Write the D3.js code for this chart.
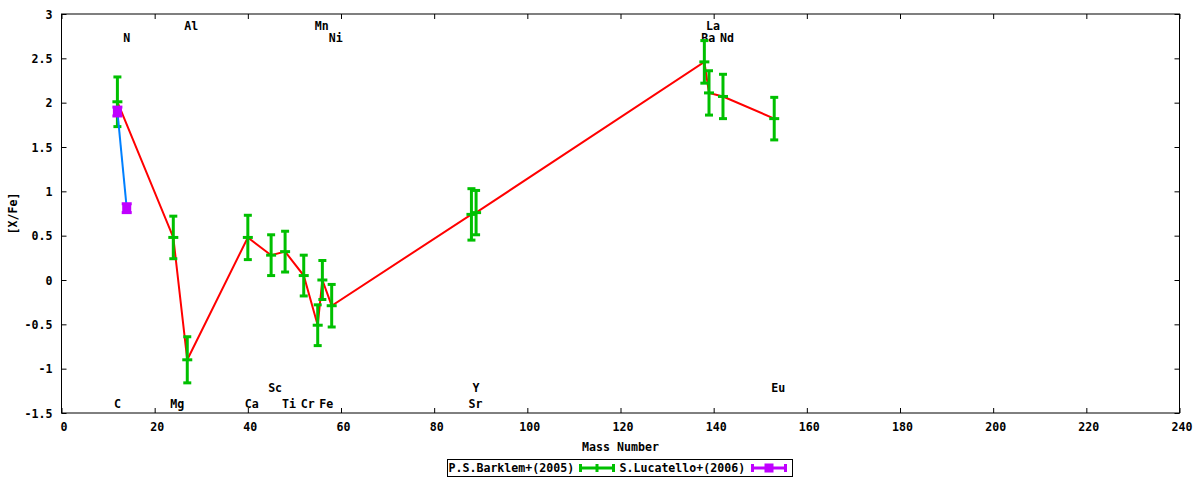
<!DOCTYPE html>
<html><head><meta charset="utf-8">
<script src="https://cdn.jsdelivr.net/npm/d3@7"></script>
<style>
body{margin:0;background:#fff;}
text{font-family:"DejaVu Sans Mono",monospace;font-weight:bold;font-size:11.6px;fill:#000;}
</style></head><body>
<svg id="c" width="1200" height="480"></svg>
<script>
// Barklem et al. (2005)
const barklemMass = [12,24,27,40,45,48,52,55,56,58,88,89,138,139,142,153];
const barklemVal  = [2.01,0.48,-0.90,0.48,0.28,0.32,0.05,-0.51,0.00,-0.29,0.74,0.76,2.46,2.11,2.07,1.82];
const barklemErr  = [0.28,0.24,0.26,0.25,0.23,0.23,0.23,0.23,0.22,0.24,0.29,0.25,0.24,0.25,0.25,0.24];
// Lucatello et al. (2006)
const lucMass = [12,14];
const lucVal  = [1.90,0.81];
const lucErr  = [0.05,0.05];
// element labels
const elemNames = ["C","N","Mg","Al","Ca","Sc","Ti","Cr","Mn","Fe","Ni","Sr","Y","Ba","La","Nd","Eu"];
const elemMass  = [12,14,24,27,40,45,48,52,55,56,58,88,89,138,139,142,153];
const elemY     = [-1.39,2.73,-1.39,2.87,-1.39,-1.21,-1.39,-1.39,2.87,-1.39,2.73,-1.39,-1.21,2.73,2.87,2.73,-1.21];
const xTicks = d3.range(0,241,20);
const yTicks = [-1.5,-1,-0.5,0,0.5,1,1.5,2,2.5,3];
const seriesNames = ["P.S.Barklem+(2005)","S.Lucatello+(2006)"];

const svg = d3.select("#c");
const L=61.5, R=1179.5, T=14, B=413;
const x = d3.scaleLinear().domain([0,240]).range([L,R]);
const y = d3.scaleLinear().domain([-1.5,3]).range([B,T]);
const GREEN="#00c000", RED="#ff0000", BLUE="#0080ff", MAG="#c000ff";

// axes
const fmt = d => String(d);
const gB = svg.append("g").attr("transform",`translate(0,${B})`)
  .call(d3.axisBottom(x).tickValues(xTicks).tickFormat(fmt).tickSizeInner(-5).tickSizeOuter(0).tickPadding(10));
const gT = svg.append("g").attr("transform",`translate(0,${T})`)
  .call(d3.axisTop(x).tickValues(xTicks).tickFormat("").tickSizeInner(-5).tickSizeOuter(0));
const gL = svg.append("g").attr("transform",`translate(${L},0)`)
  .call(d3.axisLeft(y).tickValues(yTicks).tickFormat(fmt).tickSizeInner(-5).tickSizeOuter(0).tickPadding(9));
const gR = svg.append("g").attr("transform",`translate(${R},0)`)
  .call(d3.axisRight(y).tickValues(yTicks).tickFormat("").tickSizeInner(-5).tickSizeOuter(0));
[gB,gT,gL,gR].forEach(g=>{
  g.select(".domain").remove();
  g.selectAll("line").attr("stroke","#000");
  g.selectAll("text").attr("font-family",null).attr("font-size",null).attr("fill","#000");
});
gL.selectAll("text").attr("dy","0.36em");
gB.selectAll("text").attr("dx","2");
svg.append("rect").attr("x",L).attr("y",T).attr("width",R-L).attr("height",B-T)
  .attr("fill","none").attr("stroke","#000").attr("stroke-width",1);

// axis labels
svg.append("text").attr("x",(L+R)/2).attr("y",451).attr("text-anchor","middle").text("Mass Number");
svg.append("text").attr("transform",`translate(17,${(T+B)/2}) rotate(-90)`).attr("text-anchor","middle").text("[X/Fe]");

// element labels
elemNames.forEach((n,i)=>{
  svg.append("text").attr("x",x(elemMass[i])-3).attr("y",y(elemY[i])+4.3)
    .attr("text-anchor", n.length===1 ? "middle" : "start")
    .attr("dx", n.length===1 ? 3 : 0).text(n);
});

const bark = barklemMass.map((m,i)=>({m, v:barklemVal[i], e:barklemErr[i]}));
const luc  = lucMass.map((m,i)=>({m, v:lucVal[i], e:lucErr[i]}));
const line = d3.line().x(d=>x(d.m)).y(d=>y(d.v));

svg.append("path").datum(bark).attr("d",line).attr("fill","none").attr("stroke",RED).attr("stroke-width",2);

function greenBar(g, cx, yt, yb, yc){
  g.append("line").attr("x1",cx).attr("x2",cx).attr("y1",yt).attr("y2",yb).attr("stroke",GREEN).attr("stroke-width",3);
  g.append("line").attr("x1",cx-4).attr("x2",cx+4).attr("y1",yt).attr("y2",yt).attr("stroke",GREEN).attr("stroke-width",3);
  g.append("line").attr("x1",cx-4).attr("x2",cx+4).attr("y1",yb).attr("y2",yb).attr("stroke",GREEN).attr("stroke-width",3);
  g.append("line").attr("x1",cx-5).attr("x2",cx+5).attr("y1",yc).attr("y2",yc).attr("stroke",GREEN).attr("stroke-width",3);
}
const gG = svg.append("g");
bark.forEach(d=>greenBar(gG, x(d.m), y(d.v+d.e), y(d.v-d.e), y(d.v)));

svg.append("path").datum(luc).attr("d",line).attr("fill","none").attr("stroke",BLUE).attr("stroke-width",2);

function magMark(g, cx, yt, yb, yc){
  g.append("line").attr("x1",cx).attr("x2",cx).attr("y1",yt).attr("y2",yb).attr("stroke",MAG).attr("stroke-width",3);
  g.append("line").attr("x1",cx-5).attr("x2",cx+5).attr("y1",yt).attr("y2",yt).attr("stroke",MAG).attr("stroke-width",3);
  g.append("line").attr("x1",cx-5).attr("x2",cx+5).attr("y1",yb).attr("y2",yb).attr("stroke",MAG).attr("stroke-width",3);
  g.append("rect").attr("x",cx-4.5).attr("y",yc-4.5).attr("width",9).attr("height",9).attr("fill",MAG);
}
const gM = svg.append("g");
luc.forEach(d=>magMark(gM, x(d.m), y(d.v+d.e), y(d.v-d.e), y(d.v)));

// legend
svg.append("rect").attr("x",447.5).attr("y",459.5).attr("width",345).attr("height",17)
  .attr("fill","#fff").attr("stroke","#000").attr("stroke-width",1);
svg.append("text").attr("x",448.5).attr("y",472).text(seriesNames[0]);
svg.append("text").attr("x",619.5).attr("y",472).text(seriesNames[1]);
const lg = svg.append("g");
// green sample
lg.append("line").attr("x1",579).attr("x2",615).attr("y1",468).attr("y2",468).attr("stroke",GREEN).attr("stroke-width",3);
[580.5,613.5,597].forEach(cx=>lg.append("line").attr("x1",cx).attr("x2",cx).attr("y1",464).attr("y2",472).attr("stroke",GREEN).attr("stroke-width",3));
// magenta sample
lg.append("line").attr("x1",751).attr("x2",787).attr("y1",468).attr("y2",468).attr("stroke",MAG).attr("stroke-width",3);
[752.5,785.5].forEach(cx=>lg.append("line").attr("x1",cx).attr("x2",cx).attr("y1",464).attr("y2",472).attr("stroke",MAG).attr("stroke-width",3));
lg.append("rect").attr("x",764.5).attr("y",463.5).attr("width",9).attr("height",9).attr("fill",MAG);
</script>
</body></html>
